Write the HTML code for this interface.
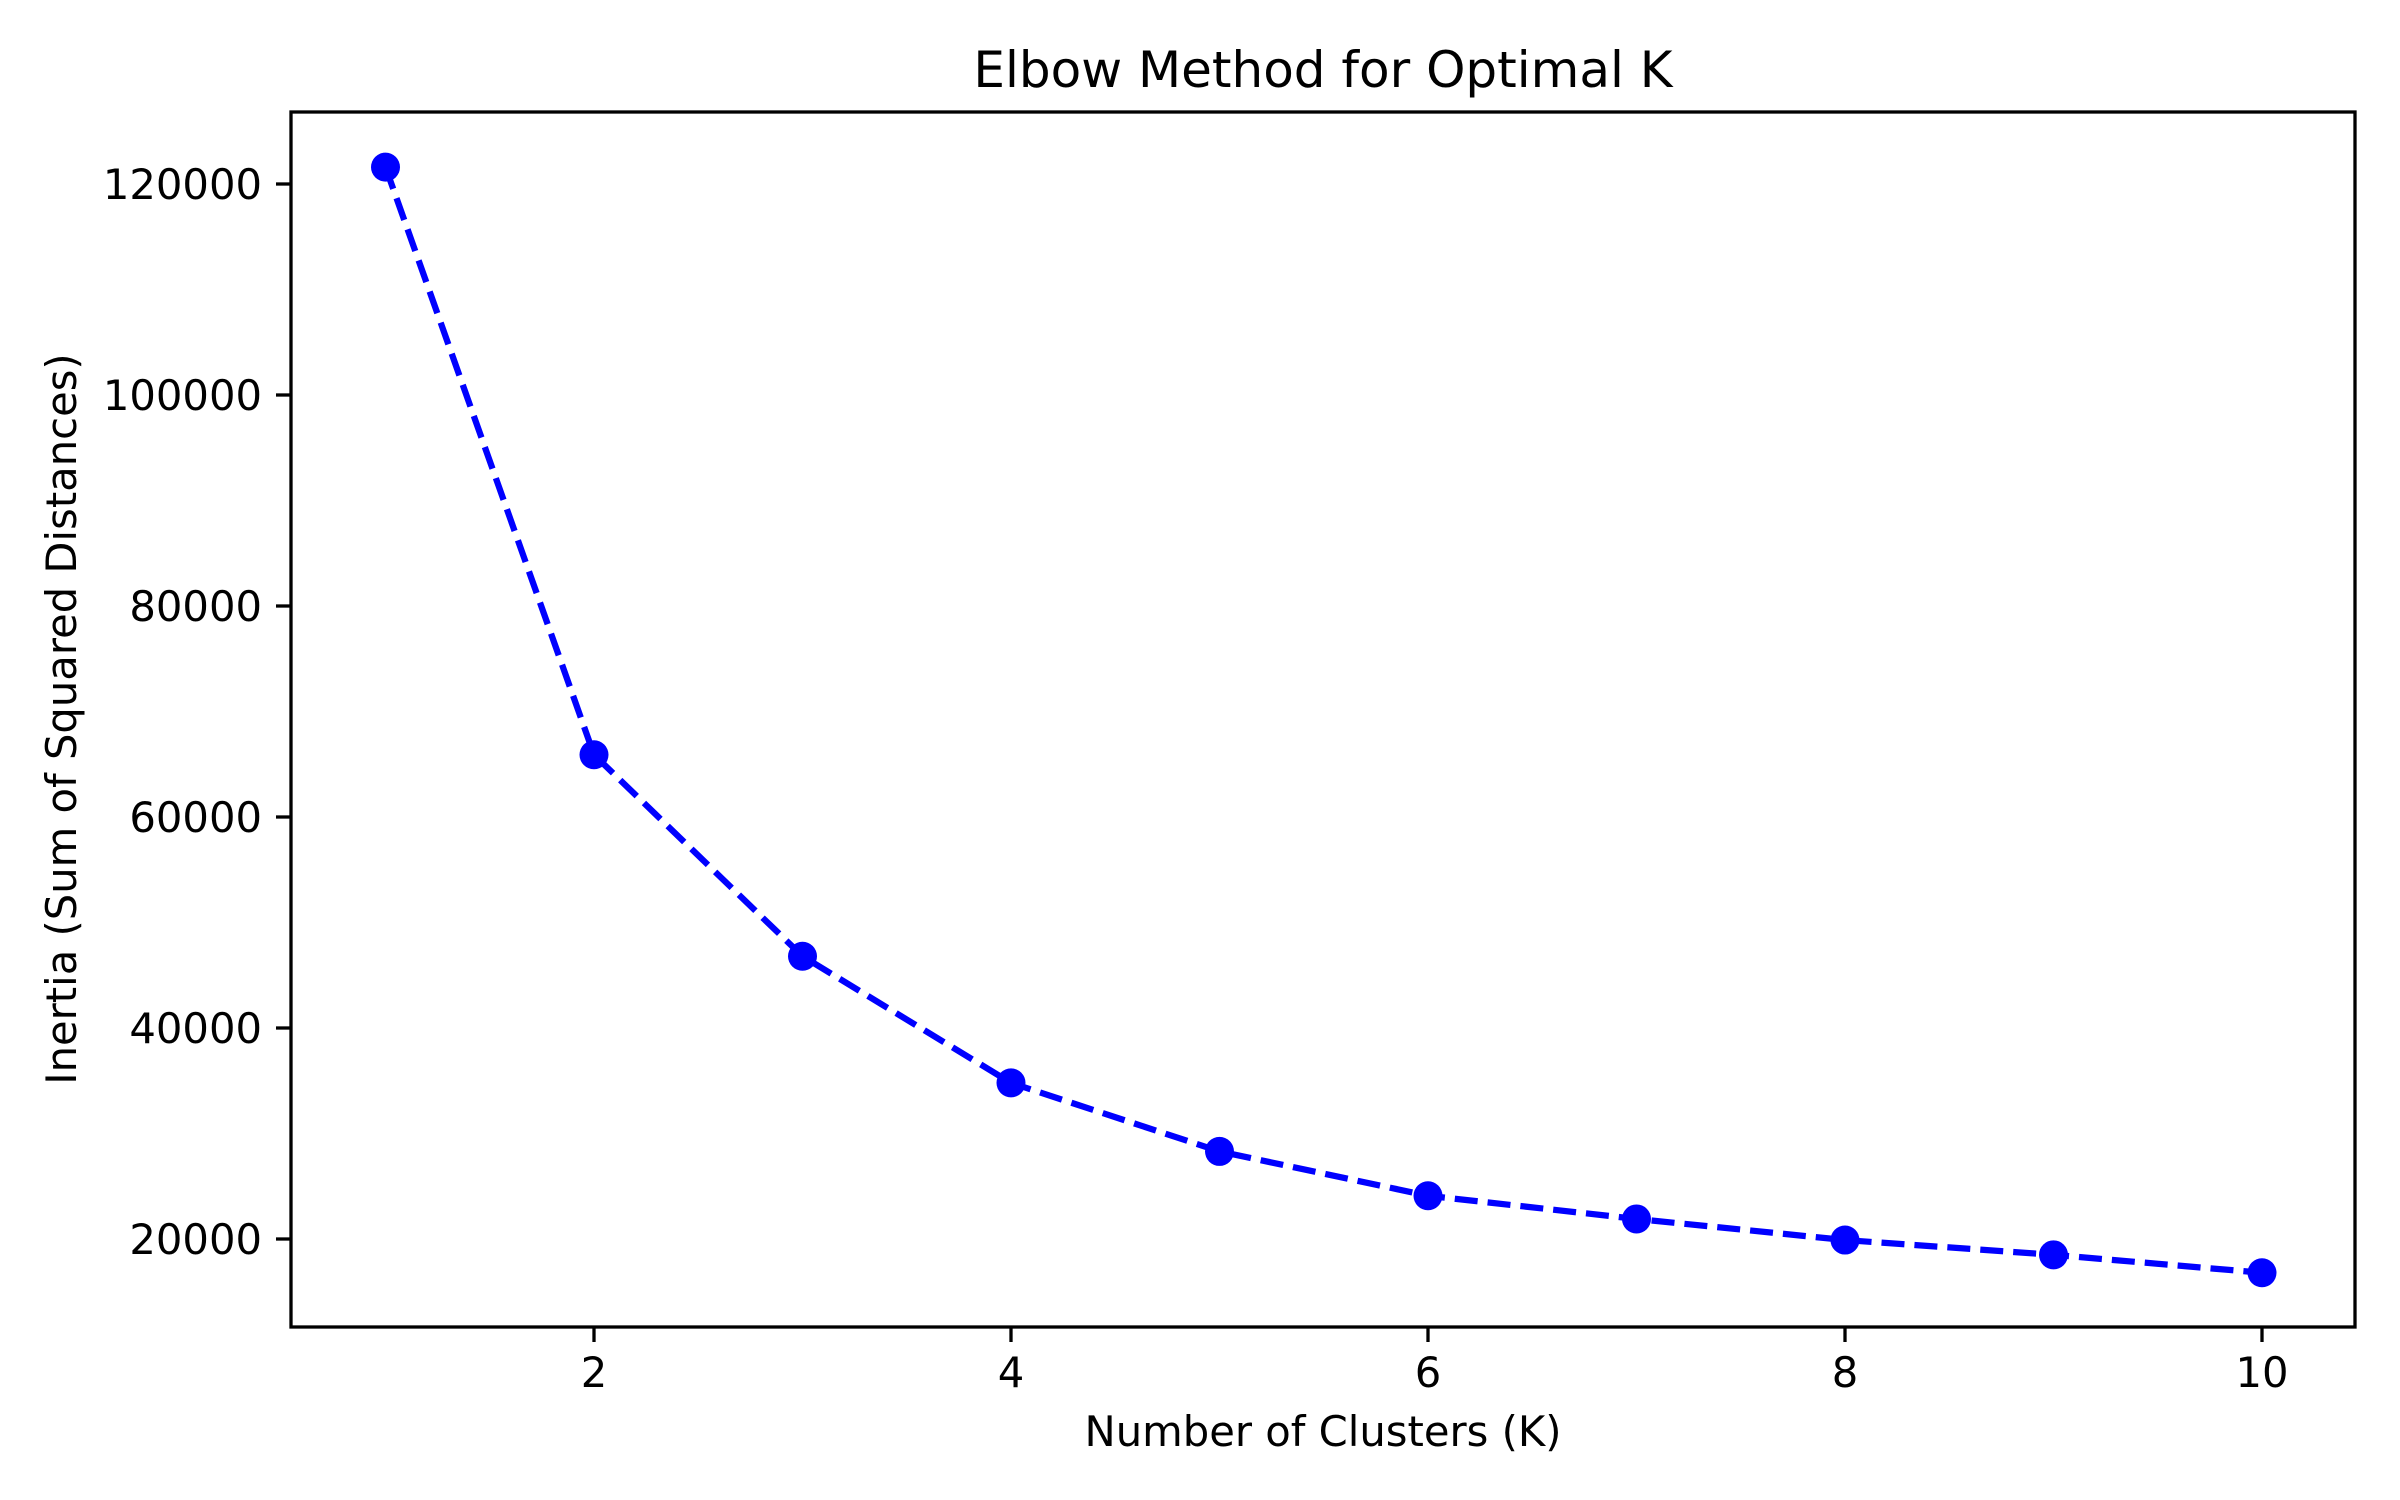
<!DOCTYPE html>
<html><head><meta charset="utf-8"><style>body{margin:0;background:#fff}svg{display:block}text{font-family:"DejaVu Sans","Liberation Sans",sans-serif;fill:#000}</style></head>
<body>
<svg id="chart" width="2400" height="1500" viewBox="0 0 2400 1500" xmlns="http://www.w3.org/2000/svg">
<rect width="2400" height="1500" fill="#fff"/>
<text x="1323" y="87" font-size="50" text-anchor="middle">Elbow Method for Optimal K</text>
<text x="1323" y="1446" font-size="41.7" text-anchor="middle">Number of Clusters (K)</text>
<text transform="translate(76,719) rotate(-90)" font-size="41.7" text-anchor="middle">Inertia (Sum of Squared Distances)</text>
<g id="ticks"></g>
<g id="series"></g>
<rect x="291" y="112" width="2064" height="1215" fill="none" stroke="#000" stroke-width="3.3"/>
</svg>
<script>
const kValues = [1,2,3,4,5,6,7,8,9,10];
const inertia = [121600,65900,46800,34800,28300,24100,21900,19900,18500,16800];
const xTicks = [2,4,6,8,10];
const yTicks = [20000,40000,60000,80000,100000,120000];

const NS = 'http://www.w3.org/2000/svg';
function xs(v){ return 385.5 + (v-1)*208.5; }
function ys(v){ return 1450 - v*0.01055; }
function mk(tag, attrs){ const e=document.createElementNS(NS,tag); for(const k in attrs) e.setAttribute(k, attrs[k]); return e; }
const tg = document.getElementById('ticks');
xTicks.forEach(t=>{
  const l = mk('line',{x1:xs(t),x2:xs(t),y1:1327,y2:1342,stroke:'#000','stroke-width':3.3});
  
  
  tg.appendChild(l);
  const tx = mk('text',{x:xs(t),y:1387,'font-size':41.7,'text-anchor':'middle'});
  tx.textContent = t;
  
  
  tg.appendChild(tx);
});
yTicks.forEach(t=>{
  const l = mk('line',{x1:276,x2:291,y1:ys(t),y2:ys(t),stroke:'#000','stroke-width':3.3});
  
  
  tg.appendChild(l);
  const tx = mk('text',{x:262,y:ys(t)+15,'font-size':41.7,'text-anchor':'end'});
  tx.textContent = t;
  
  
  tg.appendChild(tx);
});
const sg = document.getElementById('series');
const pts = kValues.map((k,i)=>xs(k)+','+ys(inertia[i])).join(' ');
const line = mk('polyline',{points:pts,fill:'none',stroke:'#0000ff','stroke-width':6.25,'stroke-dasharray':'23 10'});


sg.appendChild(line);
kValues.forEach((k,i)=>{
  const c = mk('circle',{cx:xs(k),cy:ys(inertia[i]),r:14.5,fill:'#0000ff'});
  
  
  sg.appendChild(c);
});
</script>
</body></html>
